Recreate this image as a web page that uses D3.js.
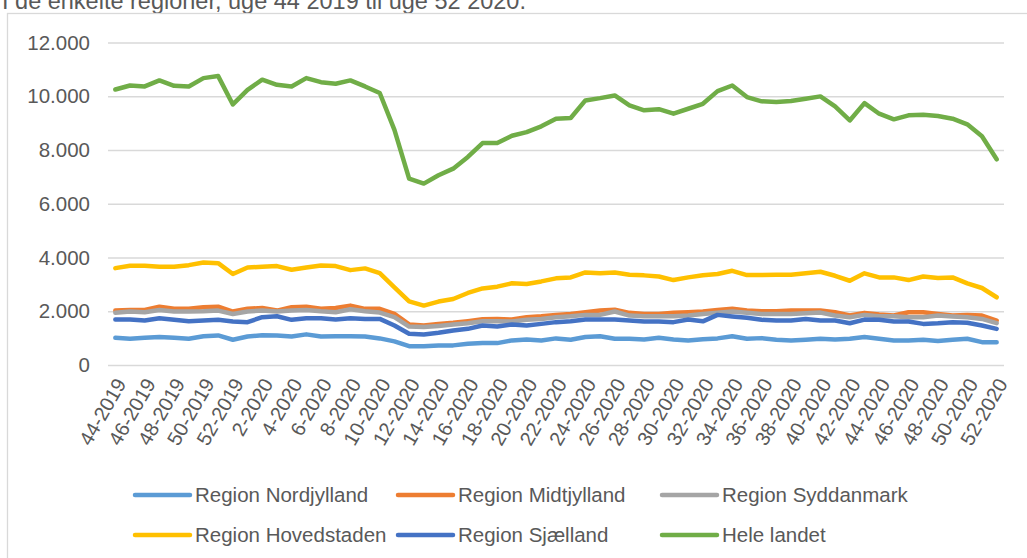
<!DOCTYPE html>
<html>
<head>
<meta charset="utf-8">
<script src="https://cdn.jsdelivr.net/npm/d3@7"></script>
<style>
  body { margin: 0; background: #fff; overflow: hidden; }
  text { font-family: "Liberation Sans", Arial, sans-serif; fill: #595959; }
</style>
</head>
<body>
<script>
// weeks on the x axis
const weeks = ["44-2019","45-2019","46-2019","47-2019","48-2019","49-2019","50-2019","51-2019","52-2019",
  "1-2020","2-2020","3-2020","4-2020","5-2020","6-2020","7-2020","8-2020","9-2020","10-2020",
  "11-2020","12-2020","13-2020","14-2020","15-2020","16-2020","17-2020","18-2020","19-2020","20-2020",
  "21-2020","22-2020","23-2020","24-2020","25-2020","26-2020","27-2020","28-2020","29-2020","30-2020",
  "31-2020","32-2020","33-2020","34-2020","35-2020","36-2020","37-2020","38-2020","39-2020","40-2020",
  "41-2020","42-2020","43-2020","44-2020","45-2020","46-2020","47-2020","48-2020","49-2020","50-2020",
  "51-2020","52-2020"];

const nordjylland = [1010,975,1010,1040,1010,975,1070,1100,940,1060,1110,1100,1060,1140,1060,1070,1070,1060,990,880,
  700,700,730,730,790,815,815,915,950,915,990,940,1040,1070,975,975,950,1010,950,915,
  960,990,1070,975,1000,940,915,940,975,950,975,1040,975,915,915,940,890,940,975,850,850];
const midtjylland = [2025,2050,2050,2170,2090,2090,2150,2170,1990,2090,2120,2025,2150,2170,2090,2120,2210,2090,2090,1900,
  1510,1470,1530,1570,1630,1700,1715,1690,1780,1815,1865,1900,1965,2025,2060,1940,1900,1900,1940,1965,
  1990,2050,2090,2025,2000,2000,2025,2025,2025,1965,1840,1940,1880,1840,1965,1965,1900,1840,1865,1840,1655];
const syddanmark = [1940,1990,1965,2050,1990,1990,2000,2025,1900,1990,2025,1990,2025,2050,2000,1965,2075,2000,1950,1780,
  1430,1410,1455,1505,1555,1630,1630,1620,1680,1715,1780,1815,1865,1865,1990,1840,1815,1815,1815,1840,
  1900,1940,1990,1940,1900,1900,1900,1925,1950,1840,1780,1865,1815,1815,1780,1780,1840,1805,1780,1715,1555];
const hovedstaden = [3605,3690,3690,3655,3655,3715,3815,3790,3385,3630,3655,3680,3545,3630,3705,3680,3530,3595,3420,2890,
  2370,2210,2360,2455,2680,2850,2915,3040,3015,3110,3225,3260,3445,3410,3445,3360,3335,3295,3160,3260,
  3340,3385,3505,3345,3345,3360,3360,3410,3470,3320,3135,3410,3260,3260,3160,3295,3235,3260,3040,2865,2520];
const sjaelland = [1690,1690,1655,1740,1680,1630,1655,1680,1620,1595,1780,1815,1680,1740,1740,1690,1740,1715,1715,1470,
  1160,1135,1200,1285,1345,1470,1430,1505,1470,1530,1595,1630,1690,1690,1690,1655,1620,1620,1595,1690,
  1625,1865,1805,1755,1680,1655,1655,1715,1655,1655,1555,1690,1680,1620,1620,1530,1555,1595,1570,1470,1345];
const heleLandet = [10250,10400,10365,10590,10390,10365,10675,10750,9695,10240,10615,10425,10365,10675,10525,10465,10590,10365,10120,8750,
  6935,6750,7060,7305,7740,8260,8260,8530,8665,8880,9165,9190,9845,9930,10030,9660,9475,9520,9350,9535,
  9720,10190,10400,9970,9810,9785,9820,9905,9995,9620,9100,9745,9350,9140,9290,9315,9265,9165,8955,8510,7655];

const seriesNames = ["Region Nordjylland","Region Midtjylland","Region Syddanmark","Region Hovedstaden","Region Sjælland","Hele landet"];
const seriesColors = ["#5b9bd5","#ed7d31","#a5a5a5","#ffc000","#4472c4","#70ad47"];
const yTicks = [0,2000,4000,6000,8000,10000,12000];
const title = "I de enkelte regioner, uge 44 2019 til uge 52 2020.";

const series = [nordjylland, midtjylland, syddanmark, hovedstaden, sjaelland, heleLandet]
  .map((values, i) => ({ name: seriesNames[i], color: seriesColors[i], values: values }));

const width = 1027, height = 558;
const plotLeft = 108, plotRight = 1004, plotTop = 42.5, plotBottom = 365;

const danish = d3.formatLocale({ decimal: ",", thousands: ".", grouping: [3], currency: ["", " kr."] });

const svg = d3.select("body").append("svg")
  .attr("width", width)
  .attr("height", height);

// title, cut off at the top like in the source
svg.append("text")
  .attr("x", 2)
  .attr("y", 9)
  .style("font-size", "23.5px")
  .text(title);

// chart frame
svg.append("rect")
  .attr("x", 7.5)
  .attr("y", 13.5)
  .attr("width", 1040)
  .attr("height", 560)
  .attr("fill", "none")
  .attr("stroke", "#d9d9d9")
  .attr("stroke-width", 1.3);

const x = d3.scalePoint()
  .domain(weeks)
  .range([plotLeft, plotRight])
  .padding(0.5);

const y = d3.scaleLinear()
  .domain([0, 12000])
  .range([plotBottom, plotTop]);

// y axis with gridlines
const yAxis = svg.append("g")
  .attr("transform", "translate(" + plotLeft + ",0)")
  .call(d3.axisLeft(y)
    .tickValues(yTicks)
    .tickSize(-(plotRight - plotLeft))
    .tickPadding(18)
    .tickFormat(danish.format(",")));
yAxis.select(".domain").remove();
yAxis.selectAll(".tick line")
  .attr("stroke", "#d9d9d9")
  .attr("stroke-width", 1.3);
yAxis.selectAll(".tick text")
  .attr("fill", "#595959")
  .style("font-size", "20.5px")
  .style("font-family", "'Liberation Sans', Arial, sans-serif");

// x axis labels, every other week, rotated
const xAxis = svg.append("g")
  .attr("transform", "translate(0," + plotBottom + ")")
  .call(d3.axisBottom(x)
    .tickValues(weeks.filter((w, i) => i % 2 === 0))
    .tickSize(0));
xAxis.select(".domain").remove();
xAxis.selectAll(".tick text")
  .attr("fill", "#595959")
  .style("font-size", "20px")
  .style("font-family", "'Liberation Sans', Arial, sans-serif")
  .attr("text-anchor", "end")
  .attr("x", 0)
  .attr("y", 0)
  .attr("dy", "0.35em")
  .attr("transform", "translate(5,15) rotate(-60)");

// lines
const line = d3.line()
  .x((d, i) => x(weeks[i]))
  .y(d => y(d));

svg.append("g")
  .selectAll("path")
  .data(series)
  .enter()
  .append("path")
  .attr("d", d => line(d.values))
  .attr("fill", "none")
  .attr("stroke", d => d.color)
  .attr("stroke-width", 4.5)
  .attr("stroke-linejoin", "round")
  .attr("stroke-linecap", "round");

// legend, three per row
const legendCols = [135, 398, 662];
const legendRows = [495, 535];

const legend = svg.append("g")
  .selectAll("g")
  .data(series)
  .enter()
  .append("g")
  .attr("transform", (d, i) => "translate(" + legendCols[i % 3] + "," + legendRows[Math.floor(i / 3)] + ")");

legend.append("line")
  .attr("x1", 0)
  .attr("x2", 55)
  .attr("stroke", d => d.color)
  .attr("stroke-width", 4.5)
  .attr("stroke-linecap", "round");

legend.append("text")
  .attr("x", 60)
  .attr("dy", "0.35em")
  .style("font-size", "20.5px")
  .text(d => d.name);
</script>
</body>
</html>
